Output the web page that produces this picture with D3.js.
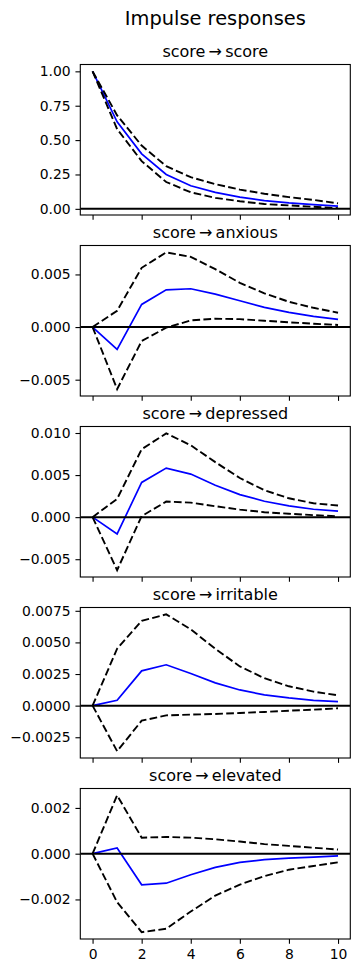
<!DOCTYPE html>
<html>
<head>
<meta charset="utf-8">
<script src="https://cdn.jsdelivr.net/npm/d3@7"></script>
<style>
  body { margin: 0; background: #fff; }
  svg { display: block; font-family: "DejaVu Sans", sans-serif; }
</style>
</head>
<body>
<div id="irf"></div>
<script>
// horizon steps
const steps = [0, 1, 2, 3, 4, 5, 6, 7, 8, 9, 10];
const xTicks = [0, 2, 4, 6, 8, 10];

// response variables (impulse is always score)
const responses = ["score", "anxious", "depressed", "irritable", "elevated"];

// point estimates of the impulse response, one row per response
const irf = [
    [1.0, 0.633, 0.40, 0.25, 0.168, 0.12, 0.085, 0.06, 0.043, 0.03, 0.02],
    [0, -0.00212, 0.00215, 0.00354, 0.00364, 0.00313, 0.0025, 0.00187, 0.0014, 0.00101, 0.00073],
    [0, -0.0020, 0.00413, 0.00583, 0.00512, 0.0038, 0.00268, 0.00189, 0.00134, 0.00094, 0.00071],
    [0, 0.00042, 0.00275, 0.00323, 0.00254, 0.0018, 0.00124, 0.00085, 0.00061, 0.00042, 0.00032],
    [0, 0.00025, -0.00136, -0.00129, -0.00092, -0.0006, -0.00038, -0.00026, -0.00019, -0.00015, -0.0001]
];

// lower error band
const lower = [
    [1.0, 0.58, 0.347, 0.195, 0.12, 0.08, 0.055, 0.035, 0.025, 0.015, 0.005],
    [0, -0.0059, -0.00133, -0.00006, 0.00063, 0.00079, 0.00075, 0.0006, 0.00045, 0.00032, 0.0002],
    [0, -0.0063, 0.00012, 0.00185, 0.00173, 0.0013, 0.0009, 0.00059, 0.0004, 0.00024, 0.0001],
    [0, -0.0036, -0.00119, -0.00077, -0.00071, -0.00066, -0.00058, -0.0005, -0.0004, -0.00032, -0.00021],
    [0, -0.00212, -0.00343, -0.00328, -0.00253, -0.00183, -0.00135, -0.00098, -0.0007, -0.00054, -0.00038]
];

// upper error band
const upper = [
    [1.0, 0.68, 0.46, 0.31, 0.23, 0.18, 0.14, 0.11, 0.085, 0.065, 0.04],
    [0, 0.00155, 0.00563, 0.0071, 0.00667, 0.0055, 0.0042, 0.0032, 0.0024, 0.00183, 0.00136],
    [0, 0.00217, 0.00807, 0.00996, 0.00854, 0.00654, 0.00465, 0.0032, 0.00224, 0.00165, 0.00138],
    [0, 0.0045, 0.0067, 0.00722, 0.00603, 0.0045, 0.0031, 0.00217, 0.00153, 0.00111, 0.00082],
    [0, 0.00255, 0.0007, 0.00073, 0.0007, 0.00063, 0.00053, 0.00042, 0.00034, 0.00026, 0.00018]
];

// y tick values per panel
const yTicks = [
    [0, 0.25, 0.5, 0.75, 1.0],
    [-0.005, 0, 0.005],
    [-0.005, 0, 0.005, 0.010],
    [-0.0025, 0, 0.0025, 0.005, 0.0075],
    [-0.002, 0, 0.002]
];
const yFormats = [".2f", ".3f", ".3f", ".4f", ".3f"];

const width = 360;
const height = 973;
const left = 80.3, right = 350.3;
const firstTop = 64.5, panelStep = 181, panelH = 150.5;
const tickLen = 4.86;

const svg = d3.select("#irf").append("svg")
    .attr("width", width)
    .attr("height", height);

svg.append("text")
    .attr("x", (left + right) / 2)
    .attr("y", 25)
    .attr("text-anchor", "middle")
    .attr("font-size", "19.4px")
    .attr("fill", "#000")
    .text("Impulse responses");

const x = d3.scaleLinear().domain([-0.5, 10.5]).range([left, right]);

responses.forEach((name, i) => {
    const top = firstTop + i * panelStep;
    const bottom = top + panelH;

    // matplotlib style autoscale: data extent + 5% margin
    const all = irf[i].concat(lower[i], upper[i]);
    const lo = d3.min(all), hi = d3.max(all);
    const pad = (hi - lo) * 0.05;
    const y = d3.scaleLinear().domain([lo - pad, hi + pad]).range([bottom, top]);

    const g = svg.append("g");

    // y axis
    const yAxis = d3.axisLeft(y)
        .tickValues(yTicks[i])
        .tickSize(tickLen)
        .tickPadding(4.86)
        .tickFormat(d3.format(yFormats[i]));
    const ya = g.append("g")
        .attr("transform", `translate(${left},0)`)
        .call(yAxis);
    ya.select(".domain").remove();
    ya.selectAll("line").attr("stroke", "#000").attr("stroke-width", 1.1);
    ya.selectAll("text").attr("font-size", "13.9px").attr("fill", "#000")
        .attr("font-family", "DejaVu Sans, sans-serif");

    // x axis (labels only on the last panel)
    const xAxis = d3.axisBottom(x)
        .tickValues(xTicks)
        .tickSize(tickLen)
        .tickPadding(4.86)
        .tickFormat(i === responses.length - 1 ? d3.format("d") : () => "");
    const xa = g.append("g")
        .attr("transform", `translate(0,${bottom})`)
        .call(xAxis);
    xa.select(".domain").remove();
    xa.selectAll("line").attr("stroke", "#000").attr("stroke-width", 1.1);
    xa.selectAll("text").attr("font-size", "13.9px").attr("fill", "#000")
        .attr("font-family", "DejaVu Sans, sans-serif");

    // clip to the axes box
    const clipId = "clip" + i;
    svg.append("clipPath").attr("id", clipId)
        .append("rect")
        .attr("x", left).attr("y", top)
        .attr("width", right - left).attr("height", panelH);

    const plot = g.append("g").attr("clip-path", `url(#${clipId})`);

    const line = d3.line()
        .x((d, j) => x(steps[j]))
        .y(d => y(d));

    plot.append("path")
        .datum(irf[i])
        .attr("d", line)
        .attr("fill", "none")
        .attr("stroke", "#0000ff")
        .attr("stroke-width", 1.7);

    [lower[i], upper[i]].forEach(band => {
        plot.append("path")
            .datum(band)
            .attr("d", line)
            .attr("fill", "none")
            .attr("stroke", "#000")
            .attr("stroke-width", 1.9)
            .attr("stroke-dasharray", "7.7,3.3");
    });

    // zero line
    plot.append("line")
        .attr("x1", left).attr("x2", right)
        .attr("y1", y(0)).attr("y2", y(0))
        .attr("stroke", "#000")
        .attr("stroke-width", 2);

    // frame
    g.append("rect")
        .attr("x", left).attr("y", top)
        .attr("width", right - left).attr("height", panelH)
        .attr("fill", "none")
        .attr("stroke", "#000")
        .attr("stroke-width", 1.1);

    // panel title
    g.append("text")
        .attr("x", (left + right) / 2)
        .attr("y", top - 7.5)
        .attr("text-anchor", "middle")
        .attr("font-size", "16px")
        .attr("fill", "#000")
        .text("score\u2009\u2192\u2009" + name);
});
</script>
</body>
</html>
